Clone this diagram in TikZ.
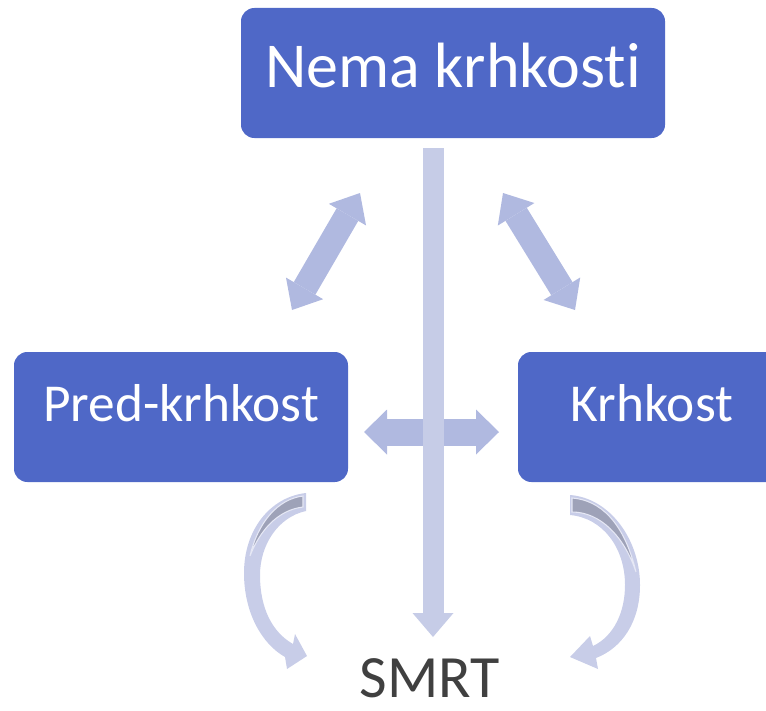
\documentclass[tikz,border=0pt]{standalone}
\usepackage{fontspec}
\setmainfont{Carlito}[Ligatures=NoCommon]
\usetikzlibrary{arrows.meta}

\definecolor{boxblue}{RGB}{79,104,199}
\definecolor{flowgrey}{RGB}{198,204,231}
\definecolor{linkblue}{RGB}{176,185,224}
\definecolor{curvelight}{RGB}{200,205,232}
\definecolor{curvedark}{RGB}{158,162,184}
\definecolor{textgrey}{RGB}{64,64,64}

\begin{document}
\begin{tikzpicture}[x=0.75pt, y=-0.75pt,
  stage/.style={fill=boxblue, rounded corners=10pt, text=white,
    minimum height=130*0.75pt, inner sep=0pt},
  bigtext/.style={font=\fontsize{48pt}{48pt}\selectfont,
    text height=30pt, text depth=7.5pt},
  midtext/.style={font=\fontsize{40pt}{40pt}\selectfont,
    text height=25pt, text depth=19pt},
  link/.style={draw=linkblue, line width=25*0.75pt,
    >={Triangle[width=43*0.75pt, length=25*0.75pt, line width=0pt]}, <->},
  hlink/.style={draw=linkblue, line width=27*0.75pt,
    >={Triangle[width=45*0.75pt, length=23*0.75pt, line width=0pt]}, <->},
  flow/.style={draw=flowgrey, line width=21*0.75pt,
    -{Triangle[width=41*0.75pt, length=24*0.75pt, line width=0pt]}},
  curvebody/.style={fill=curvelight},
  curvefold/.style={fill=curvedark, draw=white!55!curvelight, line width=0.8pt}
]
\useasboundingbox (0,0) rectangle (766,710);
\clip (0,0) rectangle (766,710);

% stages
\node[stage, bigtext, minimum width=424*0.75pt] (none) at (453,73) {Nema krhkosti};
\node[stage, midtext, minimum width=334*0.75pt] (pre) at (181,417) {Pred-krhkost};
\node[stage, midtext, minimum width=268*0.75pt] (frail) at (652,417) {Krhkost};
\node[font=\fontsize{45pt}{45pt}\selectfont, text=textgrey, anchor=base,
  inner sep=0pt] (death) at (430,697) {SMRT};

% arrow end points
\coordinate (preup)   at (292,310);
\coordinate (noneL)   at (360,193);
\coordinate (noneR)   at (503,193);
\coordinate (frailup) at (575,310);
\coordinate (preR)    at (364,432);
\coordinate (frailL)  at (499,432);
\coordinate (flowtop) at (433,148);
\coordinate (flowend) at (433,637);

% transitions between stages
\draw[link] (preup) -- (noneL);
\draw[link] (noneR) -- (frailup);
\draw[hlink] (preR) -- (frailL);

% overall course towards death
\draw[flow] (flowtop) -- (flowend);

% curved arrows from the lower stages to death
\fill[curvebody] (306,493) .. controls (270,497) and (244,530) .. (244,573)
  .. controls (244,613) and (262,644) .. (285,657) -- (287,669) -- (307,656)
  -- (295,634) -- (293,644) .. controls (272,632) and (260,608) .. (260,575)
  .. controls (260,545) and (278,517) .. (306,511) -- cycle;
\filldraw[curvefold] (303,496) .. controls (278,499) and (258,522) .. (250,556)
  .. controls (260,530) and (278,510) .. (303,507) -- cycle;

\fill[curvebody] (570,495) .. controls (610,498) and (640,540) .. (640,585)
  .. controls (640,622) and (622,648) .. (596,658) -- (598,669) -- (570,657)
  -- (590,636) -- (593,646) .. controls (614,636) and (625,612) .. (625,585)
  .. controls (625,548) and (603,518) .. (570,515) -- cycle;
\filldraw[curvefold] (572,498) .. controls (600,500) and (624,522) .. (636,572)
  .. controls (624,536) and (600,512) .. (572,512) -- cycle;
\end{tikzpicture}
\end{document}
